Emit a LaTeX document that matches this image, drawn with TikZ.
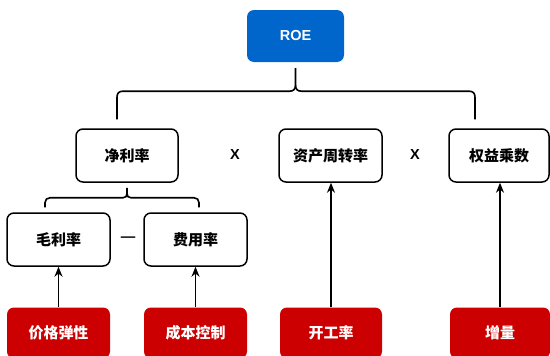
\documentclass[tikz,border=0pt]{standalone}
\usepackage{fontspec}
\setmainfont{Liberation Sans}
\newfontfamily\cjk{Noto Sans CJK SC}
\usetikzlibrary{arrows.meta,calc}
\definecolor{roeblue}{HTML}{0066CC}
\definecolor{boxred}{HTML}{CC0000}
\tikzset{
  base/.style={rounded corners=7pt, minimum height=53pt, inner sep=0pt, font=\cjk\bfseries\fontsize{15}{17}\selectfont},
  whitebox/.style={base, draw=black, line width=1.5pt, fill=white, text=black},
  redbox/.style={base, fill=boxred, text=white, minimum height=51pt},
  bluebox/.style={base, fill=roeblue, text=white, font=\bfseries\fontsize{14.5}{16}\selectfont},
  op/.style={font=\bfseries\fontsize{14.5}{16}\selectfont},
  conn/.style={line width=1.6pt, black},
  arr/.style={conn, -{Stealth[length=10pt,width=8pt]}}
}
\begin{document}
\begin{tikzpicture}[x=1pt,y=-1pt]
\useasboundingbox (0,0) rectangle (550,356);
\node[bluebox, minimum width=97pt, minimum height=52pt] (roe) at (295.5,36) {ROE};
\node[whitebox, minimum width=102pt] (npm) at (127,155.5) {净利率};
\node[whitebox, minimum width=103pt] (ato) at (330.5,155.5) {资产周转率};
\node[whitebox, minimum width=100pt] (em) at (499,155.5) {权益乘数};
\node[whitebox, minimum width=103pt] (gpm) at (58.5,239.5) {毛利率};
\node[whitebox, minimum width=103pt] (exp) at (195.5,239.5) {费用率};
\node[op] (x1) at (235,155) {X};
\node[op] (x2) at (415,155) {X};
\node[op] (minus) at (128,239) {—};
\node[redbox, minimum width=103pt] (pe) at (58.5,333) {价格弹性};
\node[redbox, minimum width=103pt] (cc) at (195.5,333) {成本控制};
\node[redbox, minimum width=102pt] (kgl) at (331,333) {开工率};
\node[redbox, minimum width=100pt] (zl) at (500,333) {增量};
% brace from ROE
\coordinate (b1top) at ($(roe.south)+(0,6)$);
\coordinate (b1mid) at ($(roe.south)+(0,29)$);
\coordinate (b1l) at ($(npm.north)+(-10,-9)$);
\coordinate (b1r) at ($(em.north)+(-24,-9)$);
\draw[conn] (b1top) -- ($(b1mid)+(0,-6)$) .. controls ($(b1mid)+(0,-2)$) and ($(b1mid)+(-2,0)$) .. ($(b1mid)+(-6,0)$)
  -- ($(b1l |- b1mid)+(6,0)$) .. controls ($(b1l |- b1mid)+(2,0)$) and ($(b1l |- b1mid)+(0,2)$) .. ($(b1l |- b1mid)+(0,6)$) -- (b1l);
\draw[conn] ($(b1mid)+(0,-6)$) .. controls ($(b1mid)+(0,-2)$) and ($(b1mid)+(2,0)$) .. ($(b1mid)+(6,0)$)
  -- ($(b1r |- b1mid)+(-6,0)$) .. controls ($(b1r |- b1mid)+(-2,0)$) and ($(b1r |- b1mid)+(0,2)$) .. ($(b1r |- b1mid)+(0,6)$) -- (b1r);
% brace from net profit margin
\coordinate (b2top) at ($(npm.south)+(0,5)$);
\coordinate (b2mid) at ($(npm.south)+(0,15)$);
\coordinate (b2l) at ($(gpm.north)+(-13.5,-5)$);
\coordinate (b2r) at ($(exp.north)+(3.5,-5)$);
\draw[conn] (b2top) -- ($(b2mid)+(0,-4)$) .. controls ($(b2mid)+(0,-1.5)$) and ($(b2mid)+(-1.5,0)$) .. ($(b2mid)+(-4,0)$)
  -- ($(b2l |- b2mid)+(5,0)$) .. controls ($(b2l |- b2mid)+(2,0)$) and ($(b2l |- b2mid)+(0,2)$) .. ($(b2l |- b2mid)+(0,5)$) -- (b2l);
\draw[conn] ($(b2mid)+(0,-4)$) .. controls ($(b2mid)+(0,-1.5)$) and ($(b2mid)+(1.5,0)$) .. ($(b2mid)+(4,0)$)
  -- ($(b2r |- b2mid)+(-5,0)$) .. controls ($(b2r |- b2mid)+(-2,0)$) and ($(b2r |- b2mid)+(0,2)$) .. ($(b2r |- b2mid)+(0,5)$) -- (b2r);
% arrows
\draw[arr] (pe.north) -- (gpm.south);
\draw[arr] (cc.north) -- (exp.south);
\draw[arr] (kgl.north) -- (kgl.north |- ato.south);
\draw[arr] (zl.north) -- (zl.north |- em.south);
\end{tikzpicture}
\end{document}
